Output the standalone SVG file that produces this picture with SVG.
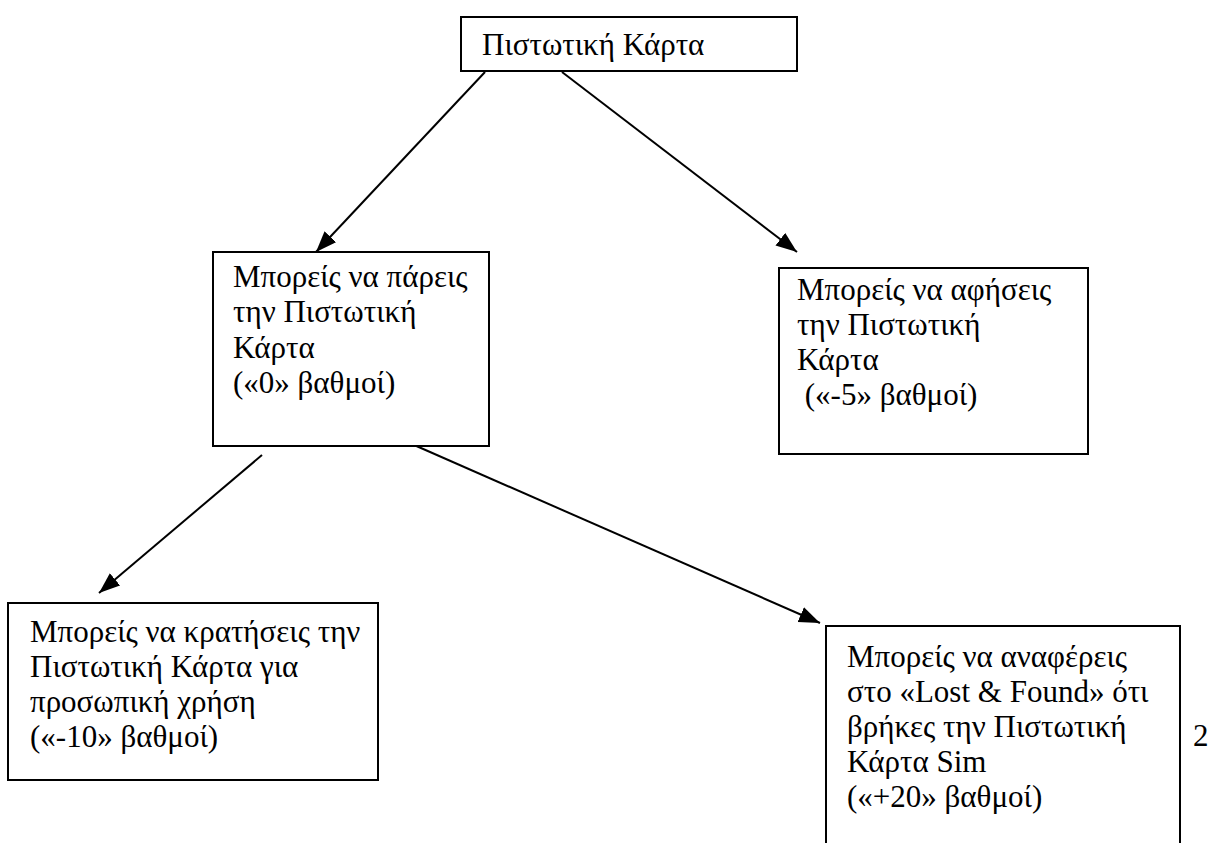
<svg xmlns="http://www.w3.org/2000/svg" width="1216" height="843" viewBox="0 0 1216 843">
<style>
.box{fill:#fff;stroke:#000;stroke-width:2}
.t{font-family:"Liberation Serif","Times New Roman","DejaVu Serif",serif;font-size:31px;fill:#000}
.c{stroke:#000;stroke-width:2;fill:none;marker-end:url(#ah)}
</style>
<defs>
<marker id="ah" markerUnits="userSpaceOnUse" markerWidth="24" markerHeight="18" refX="21" refY="8" orient="auto">
<path d="M0,0 L21,8 L0,16 z" fill="#000"/>
</marker>
</defs>
<rect width="1216" height="843" fill="#fff"/>
<g id="connectors">
<line class="c" x1="485" y1="72" x2="316" y2="252"/>
<line class="c" x1="562" y1="72" x2="797" y2="252"/>
<line class="c" x1="262" y1="455" x2="99" y2="593"/>
<line class="c" x1="405" y1="441" x2="820" y2="623"/>
</g>
<g id="n1">
<rect class="box" x="461" y="17" width="336" height="54"/>
<text class="t" x="482" y="55">Πιστωτική Κάρτα</text>
</g>
<g id="n2">
<rect class="box" x="213" y="252" width="276" height="194"/>
<text class="t" x="233" y="287">Μπορείς να πάρεις</text>
<text class="t" x="233" y="322">την Πιστωτική</text>
<text class="t" x="233" y="358">Κάρτα</text>
<text class="t" x="233" y="393">(«0» βαθμοί)</text>
</g>
<g id="n3">
<rect class="box" x="779" y="268" width="309" height="186"/>
<text class="t" x="797" y="300">Μπορείς να αφήσεις</text>
<text class="t" x="797" y="335">την Πιστωτική</text>
<text class="t" x="797" y="370">Κάρτα</text>
<text class="t" x="797" y="405" xml:space="preserve"> («-5» βαθμοί)</text>
</g>
<g id="n4">
<rect class="box" x="8" y="603" width="370" height="177"/>
<text class="t" x="30" y="642">Μπορείς να κρατήσεις την</text>
<text class="t" x="30" y="677">Πιστωτική Κάρτα για</text>
<text class="t" x="30" y="712">προσωπική χρήση</text>
<text class="t" x="30" y="747">(«-10» βαθμοί)</text>
</g>
<g id="n5">
<rect class="box" x="826" y="626" width="354" height="240"/>
<text class="t" x="847" y="667">Μπορείς να αναφέρεις</text>
<text class="t" x="847" y="702">στο «Lost &amp; Found» ότι</text>
<text class="t" x="847" y="737">βρήκες την Πιστωτική</text>
<text class="t" x="847" y="772">Κάρτα Sim</text>
<text class="t" x="847" y="807">(«+20» βαθμοί)</text>
</g>
<text class="t" x="1193" y="746">2</text>
</svg>
